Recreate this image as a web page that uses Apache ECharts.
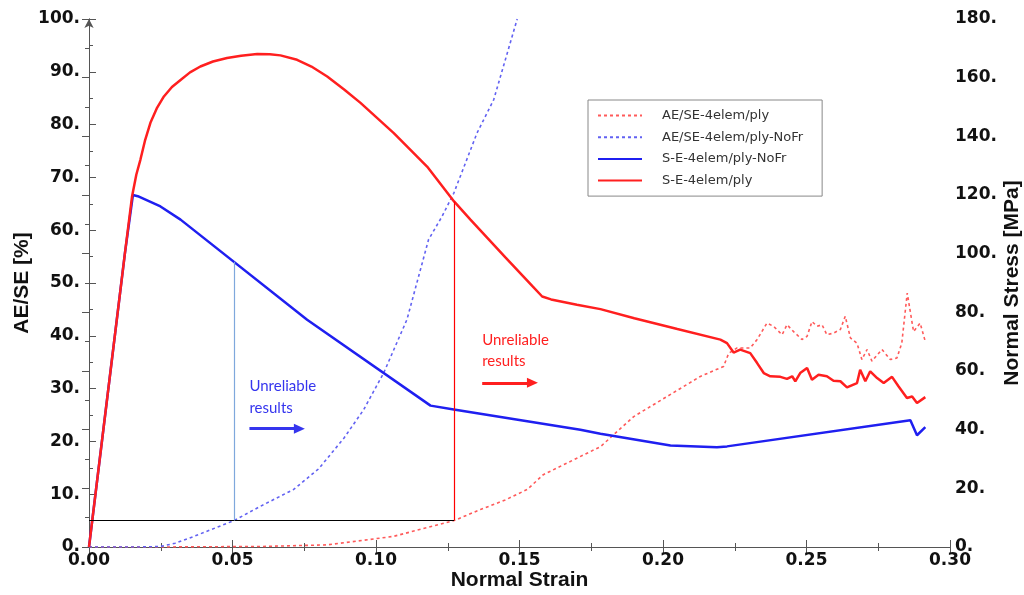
<!DOCTYPE html>
<html>
<head>
<meta charset="utf-8">
<title>AE/SE and stress-strain response</title>
<script src="https://cdn.jsdelivr.net/npm/echarts@6/dist/echarts.min.js"></script>
<style>
  html, body { margin: 0; padding: 0; background: #fff; }
  #chart { width: 1024px; height: 595px; }
</style>
</head>
<body>
<div id="chart"></div>
<script>
// ---- Data -------------------------------------------------------------
// Stress-strain curve, 4 elements per ply (with friction) [MPa]
const seStrain = [0, 0.0125, 0.0150, 0.0165, 0.0179, 0.0195, 0.0214, 0.0236, 0.0261, 0.0289,
  0.0319, 0.0352, 0.0388, 0.0432, 0.0481, 0.0530, 0.0586, 0.0630, 0.0667, 0.0725,
  0.0775, 0.0830, 0.0890, 0.0946, 0.1062, 0.1178, 0.1272, 0.1329, 0.1450, 0.1545,
  0.1579, 0.1610, 0.1700, 0.1782, 0.1900, 0.2050, 0.2200, 0.2223, 0.2246, 0.2269,
  0.2304, 0.2328, 0.2351, 0.2374, 0.2409, 0.2432, 0.2450, 0.2461, 0.2478, 0.2502,
  0.2519, 0.2542, 0.2571, 0.2594, 0.2618, 0.2641, 0.2676, 0.2687, 0.2705, 0.2722,
  0.2746, 0.2769, 0.2798, 0.2821, 0.2850, 0.2868, 0.2885, 0.2914];
const seStress = [0, 100, 119.5, 127, 132, 138.5, 144.6, 149.5, 153.6, 156.8,
  159.2, 161.8, 163.8, 165.5, 166.7, 167.5, 168.1, 168.0, 167.6, 166.1,
  163.8, 160.4, 155.9, 151.4, 141.1, 129.7, 117.8, 111.6, 98.8, 88.9,
  85.4, 84.4, 82.6, 81.1, 78.0, 74.3, 70.7, 69.5, 66.3, 67.3,
  66.1, 62.7, 59.3, 58.2, 58.0, 57.3, 58.2, 56.5, 59.3, 61.0,
  57.0, 58.7, 58.2, 56.7, 56.5, 54.4, 55.9, 60.4, 56.5, 59.9,
  57.6, 55.9, 58.0, 54.7, 50.8, 51.3, 49.1, 51.1];

// Stress-strain curve, 4 elements per ply, no friction [MPa]
const seStrainNoFr = [0, 0.0125, 0.0153, 0.0170, 0.0249, 0.0319, 0.0760, 0.1190, 0.1271,
  0.1712, 0.1782, 0.2026, 0.2188, 0.2223, 0.2862, 0.2885, 0.2914];
const seStressNoFr = [0, 100, 120.0, 119.6, 116.1, 111.6, 77.5, 48.2, 46.9,
  40.0, 38.6, 34.6, 34.0, 34.3, 43.2, 38.1, 40.9];

// Artificial energy / strain energy ratio, 4 elements per ply [%]
const aeStrain = [0, 0.025, 0.060, 0.083, 0.106, 0.1272, 0.1364, 0.1450, 0.1527, 0.1583,
  0.1782, 0.1898, 0.2014, 0.2130, 0.2211, 0.2229, 0.2258, 0.2304, 0.2328, 0.2362,
  0.2385, 0.2415, 0.2432, 0.2455, 0.2484, 0.2502, 0.2519, 0.2537, 0.2554, 0.2571,
  0.2594, 0.2618, 0.2635, 0.2653, 0.2676, 0.2693, 0.2711, 0.2728, 0.2763, 0.2792,
  0.2815, 0.2832, 0.2851, 0.2873, 0.2896, 0.2914];
const aeRatio = [0, 0, 0.1, 0.4, 2.0, 5.0, 7.1, 8.9, 10.9, 13.7,
  19.0, 24.7, 28.5, 32.3, 34.2, 36.7, 37.7, 37.7, 39.3, 42.4,
  41.8, 40.2, 42.1, 40.8, 39.3, 39.9, 42.7, 41.8, 42.1, 40.2,
  40.5, 41.2, 43.7, 39.6, 38.6, 35.5, 37.4, 35.2, 37.4, 35.5,
  35.8, 38.6, 48.1, 40.8, 42.4, 38.9];

// Artificial energy / strain energy ratio, no friction [%]
const aeStrainNoFr = [0, 0.015, 0.020, 0.0249, 0.0300, 0.0365, 0.0505, 0.0597, 0.0713, 0.0800,
  0.0888, 0.0957, 0.1027, 0.1108, 0.1183, 0.1230, 0.1271, 0.1352, 0.1410, 0.1492];
const aeRatioNoFr = [0, 0, 0.02, 0.1, 0.7, 2.0, 5.0, 7.7, 10.9, 14.8,
  20.6, 26.0, 33.0, 43.1, 58.2, 62.6, 67.0, 78.4, 84.7, 100];

// Series names (legend order)
const seriesNames = ['AE/SE-4elem/ply', 'AE/SE-4elem/ply-NoFr', 'S-E-4elem/ply-NoFr', 'S-E-4elem/ply'];

// Acceptance limit for AE/SE [%] and annotation text
const aeLimit = 5;
const noteText = 'Unreliable\nresults';

// Axis ranges
const strainMax = 0.30, strainStep = 0.05;
const ratioMax = 100, ratioStep = 10;
const stressMax = 180, stressStep = 20;

// ---- Helpers ----------------------------------------------------------
function zip(xs, ys) {
  const n = Math.min(xs.length, ys.length);
  const out = [];
  for (let i = 0; i < n; i++) out.push([xs[i], ys[i]]);
  return out;
}
function interp(xs, ys, x) {
  for (let i = 1; i < xs.length; i++) {
    if (x <= xs[i]) {
      const t = (x - xs[i - 1]) / (xs[i] - xs[i - 1]);
      return ys[i - 1] + t * (ys[i] - ys[i - 1]);
    }
  }
  return ys[ys.length - 1];
}
function firstCrossing(xs, ys, level) {
  for (let i = 1; i < xs.length; i++) {
    if (ys[i] >= level && ys[i - 1] < level) {
      const t = (level - ys[i - 1]) / (ys[i] - ys[i - 1]);
      return xs[i - 1] + t * (xs[i] - xs[i - 1]);
    }
  }
  return xs[xs.length - 1];
}
// stress value expressed on the AE/SE axis scale
const toRatioScale = s => s * ratioMax / stressMax;

// Strains where each AE/SE curve reaches the limit
const limitNoFr = firstCrossing(aeStrainNoFr, aeRatioNoFr, aeLimit);
const limitFr = firstCrossing(aeStrain, aeRatio, aeLimit);
const stressAtNoFr = toRatioScale(interp(seStrainNoFr, seStressNoFr, limitNoFr));
const stressAtFr = toRatioScale(interp(seStrain, seStress, limitFr));

// ---- Styling ----------------------------------------------------------
const RED = '#ff1f1f';
const BLUE = '#1f1ff0';
const RED_DOT = '#ff5a5a';
const BLUE_DOT = '#6262f2';
const NOTE_BLUE = '#3535ee';
const AXIS_COLOR = '#555';
const tickFont = { fontFamily: 'DejaVu Sans', fontWeight: 'bold', fontSize: 17, color: '#111' };
const titleFont = { fontFamily: 'Liberation Sans', fontWeight: 'bold', fontSize: 21, color: '#111' };
const noteFont = { fontFamily: 'Lato', fontSize: 15, lineHeight: 21.5 };

function frameAxis(extra) {
  return Object.assign({
    type: 'value',
    nameMoveOverlap: false,
    axisLine: { show: true, lineStyle: { color: AXIS_COLOR, width: 1 } },
    axisTick: { show: true, inside: true, length: 7, lineStyle: { color: AXIS_COLOR } },
    minorTick: { show: true, splitNumber: 2, length: 4, lineStyle: { color: AXIS_COLOR } },
    splitLine: { show: false },
    minorSplitLine: { show: false }
  }, extra);
}

function arrow(x0, x1, y, color) {
  return [
    { coord: [x0, y], symbol: 'none', lineStyle: { color: color, width: 3, type: 'solid' } },
    { coord: [x1, y], symbol: 'triangle', symbolSize: [10, 11] }
  ];
}
function segment(a, b, color, width) {
  return [
    { coord: a, symbol: 'none', lineStyle: { color: color, width: width, type: 'solid' } },
    { coord: b, symbol: 'none' }
  ];
}
function note(x, y, color) {
  return {
    coord: [x, y], symbol: 'circle', symbolSize: 0,
    itemStyle: { color: 'transparent' },
    label: Object.assign({ show: true, position: 'right', distance: 0, color: color,
      formatter: noteText, align: 'left' }, noteFont)
  };
}

const chart = echarts.init(document.getElementById('chart'), null, { renderer: 'canvas' });

const option = {
  animation: false,
  backgroundColor: '#fff',
  grid: { left: 89, right: 74, top: 19, bottom: 48, outerBoundsMode: 'none', containLabel: false },
  legend: {
    data: seriesNames,
    orient: 'vertical',
    left: 588,
    top: 100,
    padding: [9, 19, 9, 9],
    itemGap: 8.7,
    itemWidth: 44,
    itemHeight: 14,
    borderColor: '#888',
    borderWidth: 1,
    borderRadius: 0,
    itemStyle: { opacity: 0 },
    textStyle: { fontFamily: 'DejaVu Sans', fontSize: 13, color: '#333', padding: [0, 0, 0, 15] },
    selectedMode: false
  },
  xAxis: [
    frameAxis({
      min: 0, max: strainMax, interval: strainStep,
      name: 'Normal Strain', nameLocation: 'middle', nameGap: 23,
      nameTextStyle: titleFont,
      axisLabel: Object.assign({ margin: 5, formatter: v => v.toFixed(2) }, tickFont)
    }),
    frameAxis({
      position: 'top', min: 0, max: strainMax, interval: strainStep,
      axisLabel: { show: false }
    })
  ],
  yAxis: [
    frameAxis({
      min: 0, max: ratioMax, interval: ratioStep,
      name: 'AE/SE [%]', nameLocation: 'middle', nameGap: 56,
      nameTextStyle: titleFont,
      axisLine: { show: true, symbol: ['none', 'arrow'], symbolSize: [7, 9],
        lineStyle: { color: AXIS_COLOR, width: 1 } },
      axisLabel: Object.assign({ margin: 9, formatter: v => v + '.' }, tickFont)
    }),
    frameAxis({
      position: 'right', min: 0, max: stressMax, interval: stressStep,
      name: 'Normal Stress [MPa]', nameLocation: 'middle', nameGap: 52,
      nameTextStyle: titleFont,
      axisLabel: Object.assign({ margin: 5, formatter: v => v + '.' }, tickFont)
    })
  ],
  series: [
    {
      name: seriesNames[0], type: 'line', xAxisIndex: 0, yAxisIndex: 0,
      data: zip(aeStrain, aeRatio), showSymbol: false, symbol: 'none',
      color: RED_DOT, lineStyle: { color: RED_DOT, width: 1.6, type: [3, 3] },
      z: 2, silent: true,
      markLine: {
        silent: true, animation: false, label: { show: false },
        emphasis: { disabled: true },
        data: [
          segment([limitFr, aeLimit], [limitFr, stressAtFr], '#ff0000', 1.2),
          arrow(0.137, 0.1545, 31.1, RED)
        ]
      },
      markPoint: {
        silent: true, animation: false,
        data: [note(0.137, 37.2, RED)]
      }
    },
    {
      name: seriesNames[1], type: 'line', xAxisIndex: 0, yAxisIndex: 0,
      data: zip(aeStrainNoFr, aeRatioNoFr), showSymbol: false, symbol: 'none',
      color: BLUE_DOT, lineStyle: { color: BLUE_DOT, width: 1.6, type: [3, 3] },
      z: 2, silent: true,
      markLine: {
        silent: true, animation: false, label: { show: false },
        emphasis: { disabled: true },
        data: [
          segment([0, aeLimit], [limitFr, aeLimit], '#000', 1.2),
          segment([limitNoFr, aeLimit], [limitNoFr, stressAtNoFr], '#7fa8dc', 1.2),
          arrow(0.0559, 0.0733, 22.4, NOTE_BLUE)
        ]
      },
      markPoint: {
        silent: true, animation: false,
        data: [note(0.0559, 28.4, NOTE_BLUE)]
      }
    },
    {
      name: seriesNames[2], type: 'line', xAxisIndex: 0, yAxisIndex: 1,
      data: zip(seStrainNoFr, seStressNoFr), showSymbol: false, symbol: 'none',
      color: BLUE, lineStyle: { color: BLUE, width: 2.5 }, z: 3, silent: true
    },
    {
      name: seriesNames[3], type: 'line', xAxisIndex: 0, yAxisIndex: 1,
      data: zip(seStrain, seStress), showSymbol: false, symbol: 'none',
      color: RED, lineStyle: { color: RED, width: 2.5 }, z: 4, silent: true
    }
  ]
};

chart.setOption(option);
</script>
</body>
</html>
